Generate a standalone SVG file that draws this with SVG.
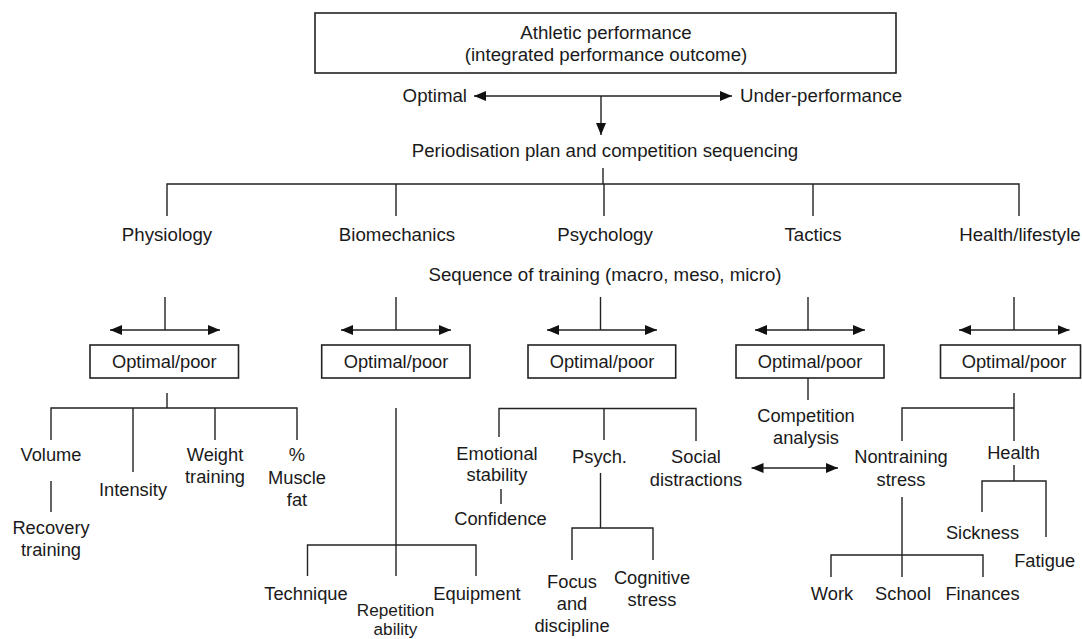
<svg xmlns="http://www.w3.org/2000/svg" width="1082" height="639" viewBox="0 0 1082 639">
<style>
text{font-family:"Liberation Sans",Arial,sans-serif;font-size:18.3px;fill:#1a1a1a;text-anchor:middle}
.t text{font-size:18.7px}
#n-repetition text{font-size:17.2px}
.l{stroke:#222;stroke-width:1.4;fill:none}
.b{stroke:#222;stroke-width:1.6;fill:#fff}
.a{marker-start:url(#ah);marker-end:url(#ah)}
.e{marker-end:url(#ah)}
</style>
<defs>
<marker id="ah" viewBox="0 0 12 10" refX="12" refY="5" markerWidth="12" markerHeight="10" markerUnits="userSpaceOnUse" orient="auto-start-reverse">
<path d="M0,0 L12,5 L0,10 Z" fill="#111"/>
</marker>
</defs>
<rect width="1082" height="639" fill="#fff"/>

<g id="connectors">
<line class="l a" x1="474" y1="96" x2="732" y2="96"/>
<line class="l e" x1="601" y1="96" x2="601" y2="135"/>
<path class="l" d="M603,168V184M167,216V184H1019V216M396,184V216M604,184V216M813,184V216"/>
<!-- physiology -->
<path class="l" d="M165,297V330"/>
<line class="l a" x1="110" y1="330" x2="220" y2="330"/>
<path class="l" d="M167,393V408M51,440V408H297V440M133,408V472M215,408V440M51,481V512"/>
<!-- biomechanics -->
<path class="l" d="M396,297V330"/>
<line class="l a" x1="341" y1="330" x2="451" y2="330"/>
<path class="l" d="M396,408V576M307.5,576V545H476V576"/>
<!-- psychology -->
<path class="l" d="M600.5,297V330"/>
<line class="l a" x1="547" y1="330" x2="657" y2="330"/>
<path class="l" d="M499,437V408.5H696V441M604,408.5V440M501,489V504M600.5,473V528M572,560V528H653V560"/>
<!-- tactics -->
<path class="l" d="M808,297V330"/>
<line class="l a" x1="755" y1="330" x2="865" y2="330"/>
<path class="l" d="M808,378V400"/>
<line class="l a" x1="751.5" y1="468" x2="838" y2="468"/>
<!-- health -->
<path class="l" d="M1014,297V330"/>
<line class="l a" x1="959" y1="330" x2="1069.5" y2="330"/>
<path class="l" d="M1014,393V441M902,441V408H1014M1014,465V481M982,512V481H1046V537M902,497V577M831,577V555H983V577"/>
</g>

<g class="t">
<g id="n-athletic"><rect class="b" x="315" y="13" width="581" height="60"/><text x="606" y="39">Athletic performance</text><text x="606" y="61">(integrated performance outcome)</text></g>
<g id="n-optimal"><text x="467" y="102" style="text-anchor:end">Optimal</text></g>
<g id="n-under"><text x="740" y="102" style="text-anchor:start">Under-performance</text></g>
<g id="n-period"><text x="605" y="157">Periodisation plan and competition sequencing</text></g>
<g id="n-physiology"><text x="167" y="241">Physiology</text></g>
<g id="n-biomechanics"><text x="397" y="241">Biomechanics</text></g>
<g id="n-psychology"><text x="605" y="241">Psychology</text></g>
<g id="n-tactics"><text x="813" y="241">Tactics</text></g>
<g id="n-health-lifestyle"><text x="1020" y="241">Health/lifestyle</text></g>
<g id="n-sequence"><text x="605" y="281">Sequence of training (macro, meso, micro)</text></g>
</g>

<g id="n-op1"><rect class="b" x="90" y="345" width="148.5" height="33"/><text x="164.3" y="367.5">Optimal/poor</text></g>
<g id="n-op2"><rect class="b" x="321.7" y="345" width="148.3" height="33"/><text x="396" y="367.5">Optimal/poor</text></g>
<g id="n-op3"><rect class="b" x="528" y="345" width="147.7" height="33"/><text x="602" y="367.5">Optimal/poor</text></g>
<g id="n-op4"><rect class="b" x="736" y="345" width="148" height="33"/><text x="810" y="367.5">Optimal/poor</text></g>
<g id="n-op5"><rect class="b" x="940.5" y="345" width="140" height="33"/><text x="1014" y="367.5">Optimal/poor</text></g>

<g id="n-volume"><text x="51" y="461">Volume</text></g>
<g id="n-recovery"><text x="51" y="534">Recovery</text><text x="51" y="556">training</text></g>
<g id="n-intensity"><text x="133" y="496">Intensity</text></g>
<g id="n-weight"><text x="215" y="461">Weight</text><text x="215" y="483">training</text></g>
<g id="n-muscle"><text x="297" y="461">%</text><text x="297" y="484">Muscle</text><text x="297" y="506">fat</text></g>

<g id="n-technique"><text x="306" y="600">Technique</text></g>
<g id="n-repetition"><text x="395.5" y="616">Repetition</text><text x="395.5" y="635.3">ability</text></g>
<g id="n-equipment"><text x="477" y="600">Equipment</text></g>

<g id="n-emotional"><text x="497" y="460">Emotional</text><text x="497" y="481">stability</text></g>
<g id="n-confidence"><text x="500.5" y="525">Confidence</text></g>
<g id="n-psych"><text x="599.5" y="463">Psych.</text></g>
<g id="n-social"><text x="696" y="463">Social</text><text x="696" y="486">distractions</text></g>
<g id="n-focus"><text x="572" y="588">Focus</text><text x="572" y="610">and</text><text x="572" y="632">discipline</text></g>
<g id="n-cognitive"><text x="652" y="584">Cognitive</text><text x="652" y="606">stress</text></g>

<g id="n-competition"><text x="806" y="422">Competition</text><text x="806" y="444">analysis</text></g>

<g id="n-nontraining"><text x="901" y="463">Nontraining</text><text x="901" y="486">stress</text></g>
<g id="n-health"><text x="1013.6" y="459">Health</text></g>
<g id="n-sickness"><text x="982.5" y="539">Sickness</text></g>
<g id="n-fatigue"><text x="1044.7" y="567">Fatigue</text></g>
<g id="n-work"><text x="832" y="600">Work</text></g>
<g id="n-school"><text x="903" y="600">School</text></g>
<g id="n-finances"><text x="982.5" y="600">Finances</text></g>
</svg>
